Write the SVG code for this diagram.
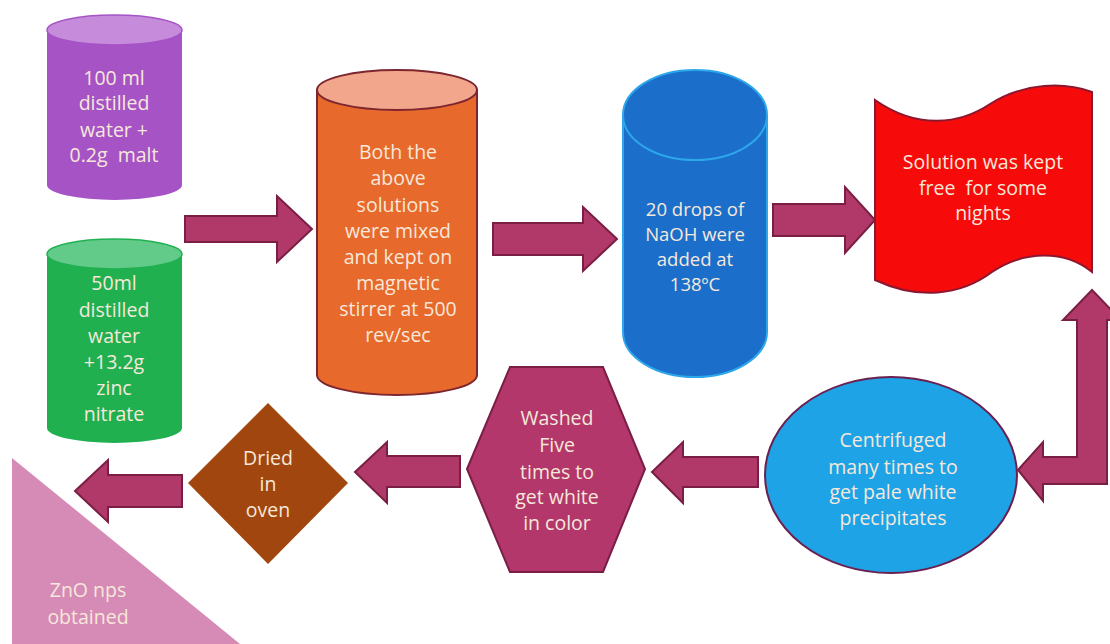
<svg xmlns="http://www.w3.org/2000/svg" width="1110" height="644" viewBox="0 0 1110 644">
<style>
.t{font-family:"Open Sans","Noto Sans","DejaVu Sans",sans-serif;font-size:19.5px;fill:#F6E8DA;text-anchor:middle}
.s{font-size:18.5px}
.arr{fill:#B0396A;stroke:#7A1E44;stroke-width:2;stroke-linejoin:miter}
</style>
<rect width="1110" height="644" fill="#FFFFFF"/>
<g id="connectors">
<polygon class="arr" points="185,216 277,216 277,196 312,229 277,262 277,242 185,242"/>
<polygon class="arr" points="493,223 583,223 583,207 617,239 583,271 583,255 493,255"/>
<polygon class="arr" points="773,204 845,204 845,187 875,220 845,253 845,236 773,236"/>
<polygon class="arr" points="1018,470 1043,442 1043,457 1077,457 1077,320 1063,320 1092,290 1121,320 1107,320 1107,484 1043,484 1043,501"/>
<polygon class="arr" points="652,472 683,442 683,457 758,457 758,487 683,487 683,503"/>
<polygon class="arr" points="355,472 387,442 387,456 460,456 460,487 387,487 387,503"/>
<polygon class="arr" points="75,491 108,460 108,475 182,475 182,507 108,507 108,522"/>
</g>
<g id="n-malt">
<path d="M47,30 L47,185 A67.5,15 0 0 0 182,185 L182,30 Z" fill="#A653C6"/>
<ellipse cx="114.5" cy="30" rx="67.5" ry="15" fill="#C68CDB" stroke="#A653C6" stroke-width="1.5"/>
<text class="t" x="114" y="85">100 ml</text>
<text class="t" x="114" y="110">distilled</text>
<text class="t" x="114" y="137">water +</text>
<text class="t" x="114" y="162">0.2g&#160; malt</text>
</g>
<g id="n-zinc">
<path d="M47,254 L47,428 A67.5,15 0 0 0 182,428 L182,254 Z" fill="#20B050"/>
<ellipse cx="114.5" cy="254" rx="67.5" ry="15" fill="#62CB8A" stroke="#20B050" stroke-width="1.5"/>
<text class="t" x="114" y="290">50ml</text>
<text class="t" x="114" y="317">distilled</text>
<text class="t" x="114" y="343">water</text>
<text class="t" x="114" y="369">+13.2g</text>
<text class="t" x="114" y="395">zinc</text>
<text class="t" x="114" y="421">nitrate</text>
</g>
<g id="n-mix">
<path d="M317,90 L317,375 A80,20 0 0 0 477,375 L477,90 Z" fill="#E8692C" stroke="#7D2630" stroke-width="2"/>
<ellipse cx="397" cy="90" rx="80" ry="20" fill="#F2A68C" stroke="#7D2630" stroke-width="2"/>
<text class="t" x="398" y="159">Both the</text>
<text class="t" x="398" y="185">above</text>
<text class="t" x="398" y="212">solutions</text>
<text class="t" x="398" y="238">were mixed</text>
<text class="t" x="398" y="264">and kept on</text>
<text class="t" x="398" y="290">magnetic</text>
<text class="t" x="398" y="316">stirrer at 500</text>
<text class="t" x="398" y="342">rev/sec</text>
</g>
<g id="n-naoh">
<path d="M623,115 L623,332 A72,45 0 0 0 767,332 L767,115 Z" fill="#1B6FCB" stroke="#2DA6EA" stroke-width="2"/>
<ellipse cx="695" cy="115" rx="72" ry="45" fill="#1B6FCB" stroke="#2DA6EA" stroke-width="2"/>
<text class="t s" x="695" y="216">20 drops of</text>
<text class="t s" x="695" y="241">NaOH were</text>
<text class="t s" x="695" y="266">added at</text>
<text class="t s" x="695" y="291">138ºC</text>
</g>
<g id="n-nights">
<path d="M875,100 C918,130 960,124 990,104 C1025,82 1065,82 1092,92 L1092,272 C1065,250 1025,250 992,272 C960,296 918,300 875,280 Z" fill="#F70A0A" stroke="#8A1830" stroke-width="2"/>
<text class="t" x="983" y="169">Solution was kept</text>
<text class="t" x="983" y="195">free&#160; for some</text>
<text class="t" x="983" y="220">nights</text>
</g>
<g id="n-centrifuge">
<ellipse cx="891" cy="475" rx="126" ry="98" fill="#1DA3E6" stroke="#6A2050" stroke-width="2"/>
<text class="t" x="893" y="447">Centrifuged</text>
<text class="t" x="893" y="474">many times to</text>
<text class="t" x="893" y="499">get pale white</text>
<text class="t" x="893" y="525">precipitates</text>
</g>
<g id="n-washed">
<polygon points="467,469 510,367 603,367 645,469 603,572 510,572" fill="#B3376A" stroke="#7A1E44" stroke-width="2"/>
<text class="t" x="557" y="425">Washed</text>
<text class="t" x="557" y="452">Five</text>
<text class="t" x="557" y="479">times to</text>
<text class="t" x="557" y="504">get white</text>
<text class="t" x="557" y="530">in color</text>
</g>
<g id="n-dried">
<polygon points="268,403 348,483 268,564 188,483" fill="#A0460E"/>
<text class="t" x="268" y="465">Dried</text>
<text class="t" x="268" y="491">in</text>
<text class="t" x="268" y="517">oven</text>
</g>
<g id="n-zno">
<polygon points="12,458 240,644 12,644" fill="#D68AB6"/>
<text class="t" x="88" y="597">ZnO nps</text>
<text class="t" x="88" y="624">obtained</text>
</g>
</svg>
